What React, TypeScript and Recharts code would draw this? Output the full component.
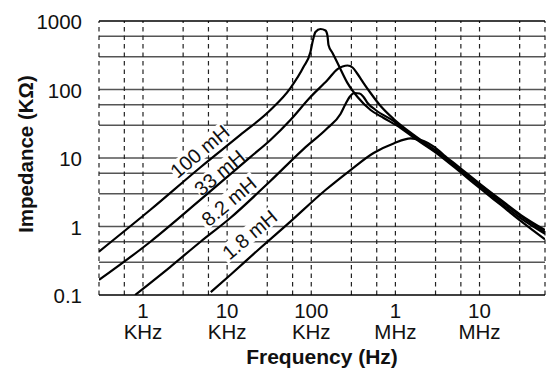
import React from 'react'
import { LineChart, Line, XAxis, YAxis, ReferenceLine, ReferenceDot } from 'recharts'

// axis ticks and grid
const X_TICKS = [1e3, 1e4, 1e5, 1e6, 1e7]
const X_TICK_NUMS = ['1', '10', '100', '1', '10']
const X_TICK_UNITS = ['KHz', 'KHz', 'KHz', 'MHz', 'MHz']
const Y_TICKS = [0.1, 1, 10, 100, 1000]
const X_GRID = [300, 600, 1e3, 3e3, 6e3, 1e4, 3e4, 6e4, 1e5, 3e5, 6e5, 1e6, 3e6, 6e6, 1e7, 3e7, 6e7]
const Y_GRID = [0.3, 0.6, 1, 3, 6, 10, 30, 60, 100, 300, 600]

// frequency in Hz, impedance in kOhm
const F_100MH = [300, 1215, 4790, 14350, 32700, 56500, 80800, 97800, 104800, 112200, 128700, 147700, 156000, 160300, 178900, 205200, 270000, 355000, 507000, 725000, 1155000, 1650000, 3190000, 5990000, 10360000, 17940000, 31050000, 60000000]
const Z_100MH = [0.43, 1.74, 7.27, 21.7, 50.2, 105, 213, 353, 528, 691, 764, 726, 604, 446, 341, 244, 124, 77.7, 50.2, 38.4, 27.4, 19.9, 11.44, 6.14, 3.53, 2.06, 1.2, 0.65]

const F_33MH = [300, 1215, 4790, 18870, 32700, 56500, 97800, 156000, 205200, 235300, 270000, 309700, 355000, 418600, 507000, 667000, 953000, 1650000, 3190000, 5990000, 10360000, 17940000, 31050000, 60000000]
const Z_33MH = [0.166, 0.594, 2.44, 10.3, 18.3, 35.9, 77.7, 137.6, 199, 216.6, 224, 209.5, 168.4, 124.4, 88.9, 57.4, 37.1, 21.7, 12.24, 6.68, 3.97, 2.36, 1.42, 0.83]

const F_8MH = [805, 2100, 4790, 10900, 32700, 80800, 156000, 222600, 255500, 285200, 327000, 375200, 418600, 467000, 582000, 953000, 1650000, 3190000, 5990000, 10360000, 17940000, 31050000, 60000000]
const Z_8MH = [0.1, 0.256, 0.594, 1.33, 4.62, 13.5, 27.4, 43.9, 61.4, 77.7, 88.9, 87.4, 77.7, 63.5, 50.2, 34.7, 20.6, 11.83, 6.46, 3.77, 2.2, 1.31, 0.78]

const F_1MH = [6390, 10900, 24800, 56500, 147700, 293100, 550700, 953000, 1520000, 2170000, 2860000, 3760000, 5510000, 10360000, 17940000, 31050000, 60000000]
const Z_1MH = [0.11, 0.196, 0.486, 1.18, 3.41, 6.68, 11.83, 16.3, 19.3, 17.7, 14.7, 11.06, 7.64, 4.1, 2.44, 1.47, 0.89]

const CURVE_NAMES = ['100 mH', '33 mH', '8.2 mH', '1.8 mH']
const TAG_F = [4700, 8060, 10400, 18400]
const TAG_Z = [12.65, 6.18, 2.36, 0.77]

const FONT = '"Liberation Sans", Arial, Helvetica, sans-serif'

const toPoints = (f: number[], z: number[]) => f.map((v, i) => ({ f: v, z: z[i] }))
const curves = [
  toPoints(F_100MH, Z_100MH),
  toPoints(F_33MH, Z_33MH),
  toPoints(F_8MH, Z_8MH),
  toPoints(F_1MH, Z_1MH),
]

const XTick = ({ x, y, payload }: any) => {
  const i = X_TICKS.indexOf(payload.value)
  if (i < 0) return null
  return (
    <g fontFamily={FONT} fontSize={20.5} fill="#111">
      <text x={x} y={y + 23} textAnchor="middle">{X_TICK_NUMS[i]}</text>
      <text x={x} y={y + 44} textAnchor="middle">{X_TICK_UNITS[i]}</text>
    </g>
  )
}

const YTick = ({ x, y, payload }: any) => (
  <text x={x} y={y + 8} textAnchor="end" fontFamily={FONT} fontSize={20.5} fill="#111">
    {payload.value}
  </text>
)

const XTitle = ({ viewBox }: any) => (
  <text
    x={viewBox.x + viewBox.width / 2}
    y={viewBox.y + 69}
    textAnchor="middle"
    fontFamily={FONT}
    fontSize={21}
    fontWeight="bold"
    fill="#111"
  >
    Frequency (Hz)
  </text>
)

const YTitle = ({ viewBox }: any) => {
  const cx = viewBox.x + 33
  const cy = viewBox.y + viewBox.height / 2 - 4
  return (
    <text
      x={cx}
      y={cy}
      transform={`rotate(-90 ${cx} ${cy})`}
      textAnchor="middle"
      fontFamily={FONT}
      fontSize={20.5}
      fontWeight="bold"
      fill="#111"
    >
      Impedance (KΩ)
    </text>
  )
}

const CurveTag = ({ cx, cy, text }: any) => {
  const w = text.length * 11 + 4
  const h = 18
  return (
    <g transform={`rotate(-40 ${cx} ${cy})`}>
      <rect x={cx - w / 2} y={cy - h / 2} width={w} height={h} fill="#fff" />
      <text x={cx} y={cy + 7.5} textAnchor="middle" fontFamily={FONT} fontSize={20} fill="#111">
        {text}
      </text>
    </g>
  )
}

export default function App() {
  return (
    <div style={{ position: 'absolute', left: 0, top: 0, width: 549, height: 377, background: '#fff' }}>
      <LineChart width={549} height={377} margin={{ top: 21, right: 4, bottom: 0, left: 0 }}>
        <XAxis
          dataKey="f"
          type="number"
          scale="log"
          domain={[300, 6e7]}
          allowDataOverflow
          ticks={X_TICKS}
          interval={0}
          axisLine={false}
          tickLine={false}
          tickSize={0}
          tickMargin={0}
          height={82}
          tick={<XTick />}
          label={(p: any) => <XTitle {...p} />}
        />
        <YAxis
          dataKey="z"
          type="number"
          scale="log"
          domain={[0.1, 1000]}
          allowDataOverflow
          ticks={Y_TICKS}
          interval={0}
          axisLine={false}
          tickLine={false}
          tickSize={0}
          tickMargin={17}
          width={99}
          tick={<YTick />}
          label={(p: any) => <YTitle {...p} />}
        />

        {Y_GRID.map((v) => (
          <ReferenceLine key={`h-${v}`} y={v} stroke="#555" strokeWidth={1.4} zIndex={100} />
        ))}
        {X_GRID.map((v) => (
          <ReferenceLine key={`v-${v}`} x={v} stroke="#222" strokeWidth={1.2} strokeDasharray="4.5 4" zIndex={100} />
        ))}
        <ReferenceLine y={1000} stroke="#000" strokeWidth={1.6} zIndex={100} />
        <ReferenceLine y={0.1} stroke="#000" strokeWidth={1.6} zIndex={100} />

        {CURVE_NAMES.map((name, i) => (
          <ReferenceDot
            key={name}
            x={TAG_F[i]}
            y={TAG_Z[i]}
            r={1}
            zIndex={200}
            shape={(p: any) => <CurveTag cx={p.cx} cy={p.cy} text={name} />}
          />
        ))}

        {curves.map((data, i) => (
          <Line
            key={CURVE_NAMES[i]}
            data={data}
            dataKey="z"
            type="monotone"
            stroke="#000"
            strokeWidth={2.2}
            dot={false}
            activeDot={false}
            isAnimationActive={false}
            zIndex={700}
          />
        ))}
      </LineChart>
    </div>
  )
}
